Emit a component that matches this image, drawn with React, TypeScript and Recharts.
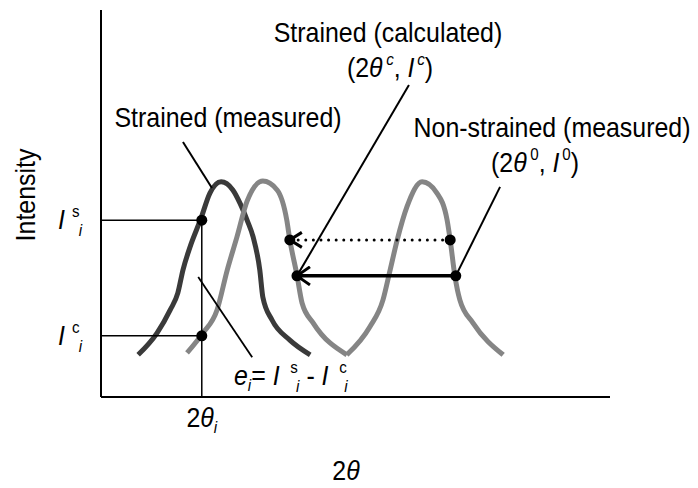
import { ComposedChart, Line, Scatter, XAxis, YAxis, ReferenceLine } from "recharts";

// peak profiles (2θ in arbitrary units, intensity 0-100)
const strainedMeasured = [
  { x: 7.3, y: 10.9 }, { x: 11.0, y: 16.5 }, { x: 13.6, y: 22.5 }, { x: 15.1, y: 26.9 },
  { x: 16.1, y: 32.8 }, { x: 17.5, y: 38.8 }, { x: 19.6, y: 46.0 }, { x: 21.4, y: 52.7 },
  { x: 23.6, y: 55.6 }, { x: 25.9, y: 53.5 }, { x: 27.3, y: 50.1 }, { x: 28.7, y: 45.7 },
  { x: 29.9, y: 41.3 }, { x: 31.2, y: 32.8 }, { x: 31.8, y: 25.8 }, { x: 33.6, y: 19.9 },
  { x: 37.1, y: 14.7 }, { x: 41.1, y: 10.9 },
];

const strainedCalculated = [
  { x: 16.9, y: 11.4 }, { x: 20.0, y: 16.5 }, { x: 22.8, y: 22.5 }, { x: 24.8, y: 32.8 },
  { x: 26.7, y: 41.3 }, { x: 28.7, y: 50.6 }, { x: 31.8, y: 55.8 }, { x: 34.6, y: 53.5 },
  { x: 36.5, y: 45.7 }, { x: 37.1, y: 40.6 }, { x: 38.5, y: 31.5 }, { x: 39.5, y: 24.3 },
  { x: 41.7, y: 19.1 }, { x: 48.3, y: 10.9 },
];

const nonStrained = [
  { x: 48.3, y: 10.9 }, { x: 52.8, y: 18.1 }, { x: 55.4, y: 25.1 }, { x: 56.8, y: 32.8 },
  { x: 58.2, y: 40.6 }, { x: 60.1, y: 49.1 }, { x: 63.1, y: 55.6 }, { x: 66.0, y: 52.7 },
  { x: 68.0, y: 45.7 }, { x: 68.6, y: 40.6 }, { x: 69.5, y: 31.5 }, { x: 70.5, y: 25.1 },
  { x: 73.1, y: 19.1 }, { x: 79.0, y: 10.9 },
];

// marked points
const theta_i = 19.8;
const Is_i = 45.7;
const Ic_i = 15.8;
const dottedPair = [{ x: 68.6, y: 40.6 }, { x: 37.1, y: 40.6 }];
const solidPair = [{ x: 69.7, y: 31.3 }, { x: 38.5, y: 31.3 }];
const markedPoints = [
  { x: theta_i, y: Is_i }, { x: theta_i, y: Ic_i },
  ...dottedPair, ...solidPair,
];

// tick labels
const thetaTicks = [theta_i];
const intensityTicks = [Ic_i, Is_i];
const intensitySups = ["c", "s"];

// leader lines from labels to curves
const leaderMeasured = [{ x: 16.1, y: 65.9 }, { x: 21.8, y: 54.0 }];
const leaderCalculated = [{ x: 60.5, y: 80.6 }, solidPair[1]];
const leaderNonStrained = [{ x: 78.4, y: 54.3 }, solidPair[0]];
const leaderError = [{ x: 19.1, y: 31.0 }, { x: 29.7, y: 10.3 }];

const FONT = "'Liberation Sans', Arial, Helvetica, sans-serif";
const SX = 0.89;
const DARK = "#3a3a3a";
const GRAY = "#858585";

function Txt({ x, y, anchor = "middle", rotate = 0, children }: any) {
  return (
    <text
      transform={`translate(${x},${y}) rotate(${rotate}) scale(${SX},1)`}
      textAnchor={anchor}
      fontFamily={FONT}
      fontSize={28}
      fill="#000"
    >
      {children}
    </text>
  );
}

function ThetaTick({ x, y }: any) {
  return (
    <Txt x={x} y={y + 22}>
      2<tspan fontStyle="italic">θ</tspan>
      <tspan fontStyle="italic" fontSize={17} dy={6}>i</tspan>
    </Txt>
  );
}

function IntensityTick({ x, y, payload }: any) {
  const sup = intensitySups[intensityTicks.indexOf(payload.value)];
  return (
    <Txt x={x - 35} y={y + 9} anchor="start">
      <tspan fontStyle="italic">I</tspan>
      <tspan dx={8} dy={-12} fontSize={17}>{sup}</tspan>
      <tspan dx={-1} dy={19} fontSize={17} fontStyle="italic">i</tspan>
    </Txt>
  );
}

const seg = (p: any[], width: number, extra: any = {}) => (props: any) => (
  <line x1={props.x1} y1={props.y1} x2={props.x2} y2={props.y2} stroke="#000" strokeWidth={width} {...extra} />
);

export default function App() {
  return (
    <div style={{ position: "absolute", left: 0, top: 0, background: "#fff" }}>
      <ComposedChart width={698} height={488} margin={{ top: 10, right: 88, bottom: 51, left: 41 }}>
        <defs>
          <marker id="chevSolid" viewBox="0 0 16 20" refX="14" refY="10" markerWidth="16" markerHeight="20" markerUnits="userSpaceOnUse" orient="auto">
            <path d="M1,1 L14,10 L1,19" fill="none" stroke="#000" strokeWidth={3} />
          </marker>
          <marker id="chevDot" viewBox="0 0 16 18" refX="14" refY="9" markerWidth="16" markerHeight="18" markerUnits="userSpaceOnUse" orient="auto">
            <path d="M2,1.5 L14,9 L2,16.5" fill="none" stroke="#000" strokeWidth={3} />
          </marker>
        </defs>
        <XAxis
          type="number"
          dataKey="x"
          domain={[0, 100]}
          ticks={thetaTicks}
          tick={<ThetaTick />}
          tickLine={false}
          axisLine={{ stroke: "#000", strokeWidth: 2 }}
          height={40}
          allowDataOverflow
        />
        <YAxis
          type="number"
          dataKey="y"
          domain={[0, 100]}
          ticks={intensityTicks}
          tick={<IntensityTick />}
          tickLine={false}
          axisLine={{ stroke: "#000", strokeWidth: 2 }}
          width={60}
          allowDataOverflow
        />
        <Line data={strainedMeasured} dataKey="y" type="monotone" stroke={DARK} strokeWidth={5} dot={false} isAnimationActive={false} />
        <Line data={strainedCalculated} dataKey="y" type="monotone" stroke={GRAY} strokeWidth={5} dot={false} isAnimationActive={false} />
        <Line data={nonStrained} dataKey="y" type="monotone" stroke={GRAY} strokeWidth={5} dot={false} isAnimationActive={false} />

        <ReferenceLine segment={[{ x: 0, y: Is_i }, { x: theta_i, y: Is_i }]} shape={seg([], 1.5)} />
        <ReferenceLine segment={[{ x: 0, y: Ic_i }, { x: theta_i, y: Ic_i }]} shape={seg([], 1.5)} />
        <ReferenceLine segment={[{ x: theta_i, y: 0 }, { x: theta_i, y: Is_i }]} shape={seg([], 1.5)} />

        <ReferenceLine segment={leaderMeasured} shape={seg([], 2)} />
        <ReferenceLine segment={leaderCalculated} shape={seg([], 2)} />
        <ReferenceLine segment={leaderNonStrained} shape={seg([], 2)} />
        <ReferenceLine segment={leaderError} shape={seg([], 1.8)} />

        <ReferenceLine segment={dottedPair} shape={seg([], 3, { strokeDasharray: "0 7.6", strokeLinecap: "round", markerEnd: "url(#chevDot)" })} />
        <ReferenceLine segment={solidPair} shape={seg([], 3.5, { markerEnd: "url(#chevSolid)" })} />

        <Scatter
          data={markedPoints}
          dataKey="y"
          isAnimationActive={false}
          shape={(p: any) => <circle cx={p.cx} cy={p.cy} r={5.5} fill="#000" />}
        />

        <Txt x={388} y={42}>Strained (calculated)</Txt>
        <Txt x={390} y={77}>
          (2<tspan fontStyle="italic">θ</tspan>
          <tspan dx={4} dy={-12} fontSize={17} fontStyle="italic">c</tspan>
          <tspan dy={12}>, </tspan>
          <tspan fontStyle="italic">I</tspan>
          <tspan dx={3} dy={-12} fontSize={17} fontStyle="italic">c</tspan>
          <tspan dy={12}>)</tspan>
        </Txt>
        <Txt x={228} y={127}>Strained (measured)</Txt>
        <Txt x={552} y={137}>Non-strained (measured)</Txt>
        <Txt x={535} y={172}>
          (2<tspan fontStyle="italic">θ</tspan>
          <tspan dx={4} dy={-12} fontSize={17}>0</tspan>
          <tspan dy={12}>, </tspan>
          <tspan fontStyle="italic">I</tspan>
          <tspan dx={3} dy={-12} fontSize={17}>0</tspan>
          <tspan dy={12}>)</tspan>
        </Txt>
        <Txt x={35} y={195} rotate={-90}>Intensity</Txt>
        <Txt x={234} y={385} anchor="start">
          <tspan fontStyle="italic">e</tspan>
          <tspan fontStyle="italic" fontSize={17} dy={6}>i</tspan>
          <tspan dy={-6}>= </tspan>
          <tspan fontStyle="italic">I</tspan>
          <tspan dx={12} dy={-12} fontSize={17}>s</tspan>
          <tspan dx={-2} dy={19} fontSize={17} fontStyle="italic">i</tspan>
          <tspan dy={-7}> - </tspan>
          <tspan fontStyle="italic">I</tspan>
          <tspan dx={12} dy={-12} fontSize={17}>c</tspan>
          <tspan dx={-3} dy={19} fontSize={17} fontStyle="italic">i</tspan>
        </Txt>
        <Txt x={346} y={480}>
          2<tspan fontStyle="italic">θ</tspan>
        </Txt>
      </ComposedChart>
    </div>
  );
}
